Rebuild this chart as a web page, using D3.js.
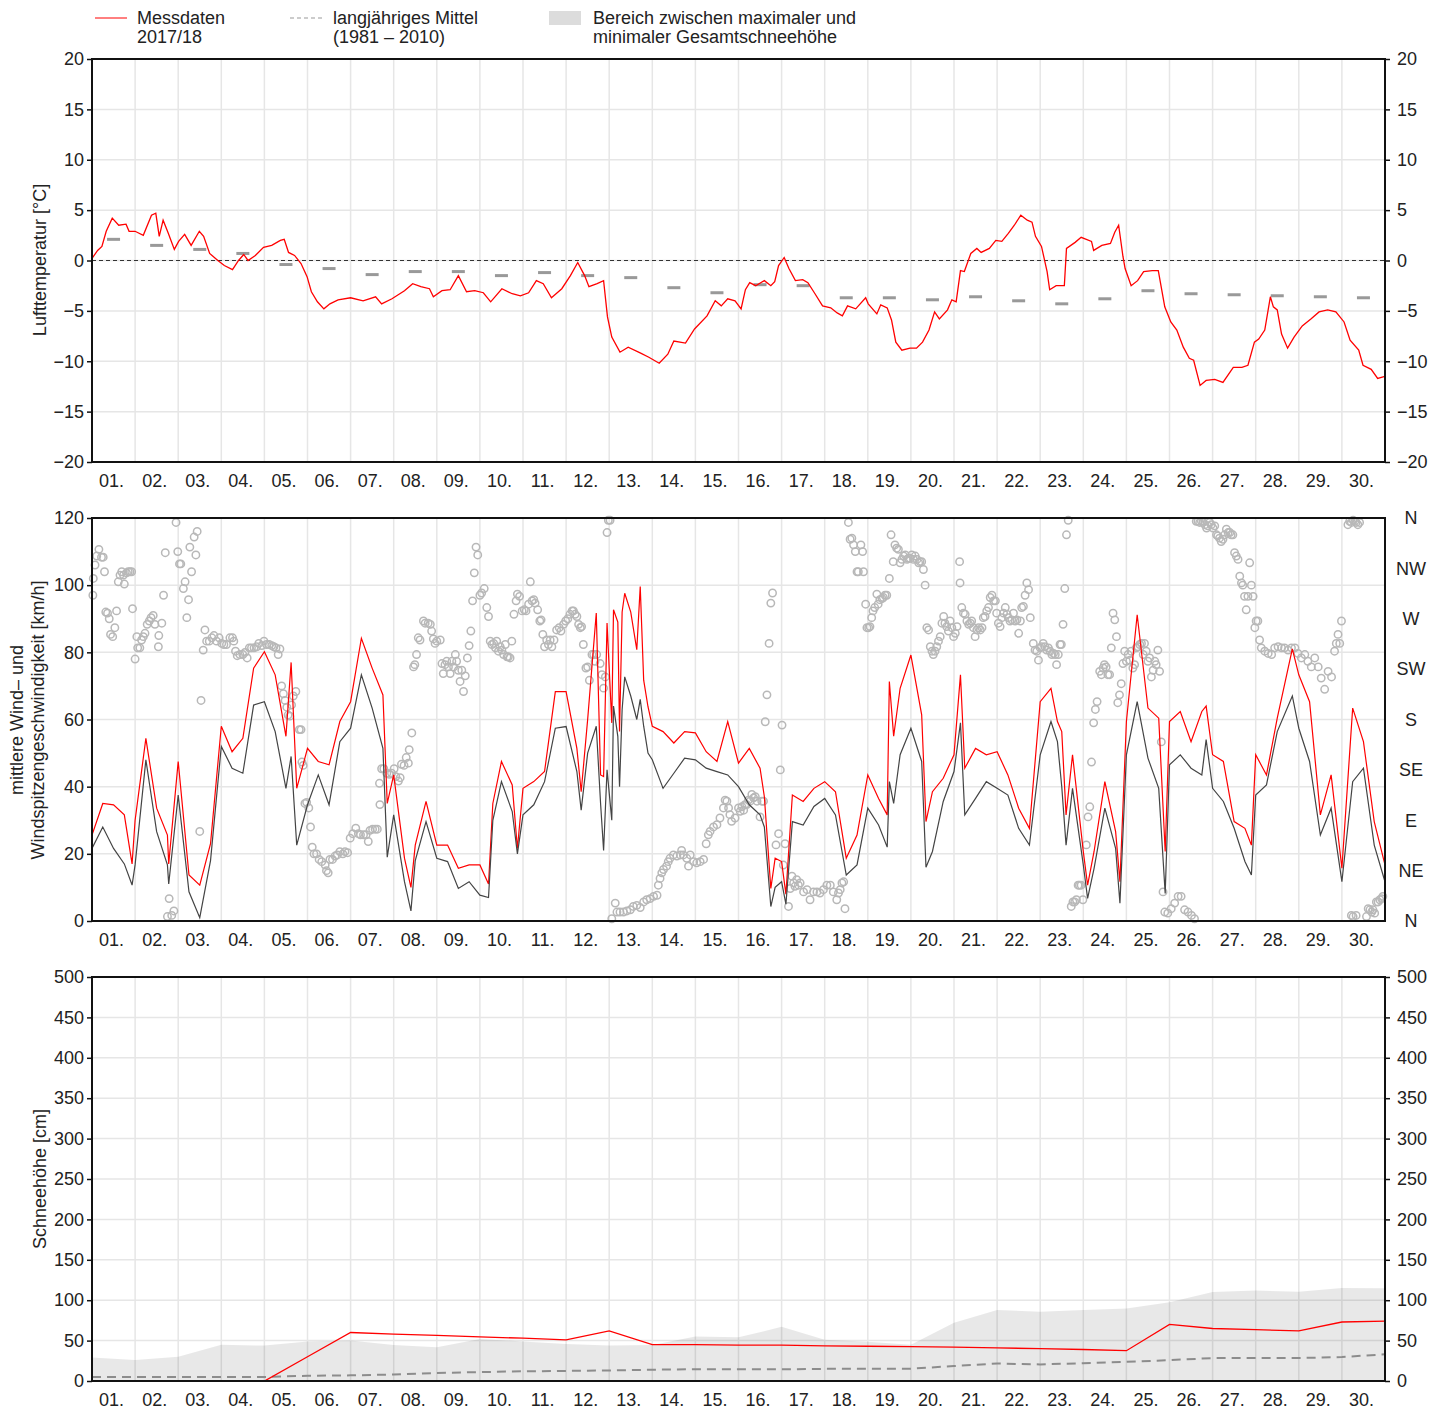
<!DOCTYPE html>
<html>
<head>
<meta charset="utf-8">
<script src="https://cdn.jsdelivr.net/npm/d3@7"></script>
<style>
  body { margin: 0; background: #fff; }
  svg text { font-family: "Liberation Sans", Arial, sans-serif; font-size: 18px; fill: #222; }
</style>
</head>
<body>
<div id="chart"></div>
<script>
'use strict'

// ---- data (x in days since start of month) ----

var dayLabels = d3.range(1, 31).map(function(d){ return (d < 10 ? '0' : '') + d + '.'; });

var tempDays = [
  0,0.13,0.23,0.33,0.47,0.62,0.79,0.86,1,1.19,
  1.38,1.48,1.56,1.65,1.77,1.91,2.01,2.15,2.3,2.49,
  2.59,2.73,2.92,3.07,3.26,3.4,3.52,3.62,3.79,3.98,
  4.17,4.37,4.46,4.56,4.7,4.85,4.99,5.09,5.23,5.38,
  5.52,5.71,6,6.29,6.58,6.72,6.96,7.25,7.44,7.63,
  7.83,7.92,8.12,8.31,8.5,8.69,8.88,9.08,9.25,9.51,
  9.75,9.94,10.13,10.31,10.47,10.66,10.9,11.1,11.27,11.43,
  11.53,11.72,11.87,11.96,12.06,12.25,12.44,12.73,12.92,13.16,
  13.36,13.5,13.77,13.98,14.27,14.46,14.6,14.75,14.92,15.06,
  15.16,15.26,15.4,15.6,15.75,15.84,15.93,16.06,16.17,16.32,
  16.49,16.61,16.76,16.95,17.14,17.29,17.41,17.53,17.72,17.95,
  18.01,18.21,18.3,18.45,18.55,18.65,18.79,18.98,19.13,19.27,
  19.42,19.55,19.66,19.85,19.95,20.05,20.15,20.24,20.39,20.53,
  20.63,20.82,20.97,21.11,21.26,21.4,21.55,21.7,21.81,21.89,
  22.03,22.16,22.22,22.37,22.56,22.61,22.81,22.95,23.19,23.24,
  23.43,23.63,23.73,23.82,23.92,23.97,24.11,24.26,24.4,24.6,
  24.74,24.89,25.03,25.17,25.32,25.46,25.56,25.71,25.85,26.05,
  26.24,26.48,26.68,26.82,26.97,27.07,27.21,27.34,27.41,27.5,
  27.6,27.74,27.89,28.08,28.28,28.47,28.67,28.86,29.05,29.19,
  29.39,29.49,29.68,29.83,30
];
var tempVals = [
  0.2,1.0,1.4,2.9,4.2,3.5,3.6,2.9,2.9,2.5,
  4.5,4.7,2.4,4.0,2.7,1.1,1.9,2.6,1.5,2.9,
  2.4,0.7,0,-0.5,-0.9,0,0.6,0,0.5,1.3,
  1.5,2.0,2.1,0.8,0.5,-0.3,-1.6,-3.1,-4.1,-4.8,
  -4.3,-3.9,-3.7,-4.0,-3.6,-4.3,-3.8,-3.0,-2.3,-2.6,
  -2.8,-3.6,-3.0,-2.9,-1.5,-3.1,-3.0,-3.2,-4.1,-2.8,
  -3.3,-3.5,-3.2,-2.0,-2.3,-3.7,-2.8,-1.5,-0.2,-1.5,
  -2.6,-2.3,-2.0,-5.6,-7.6,-9.1,-8.6,-9.2,-9.6,-10.2,
  -9.3,-8.0,-8.2,-6.8,-5.5,-4.0,-4.5,-3.8,-4.0,-4.8,
  -2.9,-2.2,-2.5,-2.0,-2.5,-2.1,-0.5,0.3,-0.8,-2.0,
  -1.9,-2.2,-3.2,-4.5,-4.7,-5.2,-5.5,-4.5,-4.8,-3.7,
  -4.3,-5.3,-4.4,-4.7,-5.9,-8.1,-8.9,-8.7,-8.7,-8.1,
  -6.9,-5.1,-5.8,-4.9,-3.9,-4.1,-1.0,-1.1,0.7,1.2,
  0.8,1.2,2.0,1.9,2.7,3.5,4.5,4.0,3.8,2.4,
  1.4,-1.1,-2.9,-2.5,-2.5,1.2,1.8,2.3,1.9,1.0,
  1.5,1.7,2.8,3.5,0.4,-0.8,-2.5,-2.0,-1.1,-1.0,
  -1.0,-4.6,-6.1,-6.9,-8.6,-9.7,-9.9,-12.4,-11.9,-11.8,
  -12.1,-10.6,-10.6,-10.4,-8.1,-7.8,-6.9,-3.6,-4.6,-4.9,
  -7.3,-8.7,-7.6,-6.5,-5.8,-5.1,-4.9,-5.1,-6.1,-7.9,
  -8.9,-10.4,-10.8,-11.7,-11.5
];

// long-term daily mean temperature (1981-2010), one per day
var tempMean = [2.1,1.5,1.1,0.7,-0.4,-0.8,-1.4,-1.1,-1.1,-1.5,
  -1.2,-1.5,-1.7,-2.7,-3.2,-2.4,-2.5,-3.7,-3.7,-3.9,
  -3.6,-4.0,-4.3,-3.8,-3.0,-3.3,-3.4,-3.5,-3.6,-3.7];

var windDays = [
  0,0.25,0.5,0.75,0.93,1,1.25,1.5,1.75,1.78,
  2,2.25,2.5,2.75,3,3.25,3.5,3.75,4,4.25,
  4.5,4.62,4.75,5,5.25,5.5,5.75,6,6.25,6.5,
  6.75,6.85,7,7.25,7.4,7.5,7.75,8,8.25,8.5,
  8.75,9,9.2,9.3,9.5,9.75,9.87,10,10.25,10.5,
  10.75,11,11.25,11.35,11.5,11.7,11.8,11.87,11.95,12.06,
  12.1,12.2,12.24,12.3,12.36,12.5,12.64,12.72,12.8,12.9,
  13,13.25,13.5,13.75,14,14.25,14.5,
  14.75,15,15.25,15.5,15.6,15.75,15.85,16,16.1,16.25,
  16.5,16.75,17,17.25,17.5,17.75,18,18.25,18.45,18.5,
  18.6,18.75,19,19.25,19.35,19.5,19.75,20,20.15,20.25,
  20.5,20.75,21,21.25,21.5,21.75,22,22.25,22.4,22.5,
  22.6,22.75,23,23.1,23.25,23.5,23.75,23.85,24,24.25,
  24.5,24.75,24.9,25,25.25,25.5,25.75,25.85,26,26.25,
  26.5,26.75,26.9,27,27.25,27.5,27.85,28,28.25,28.5,
  28.75,29,29.25,29.5,29.75,30
];
var windMean = [
  21.6,28,21.6,17,10.7,16.7,48,26.6,16.7,11,
  37.5,8.7,1,18,52,45.5,44,64.3,65.3,56.4,
  39.5,49,22.6,34.6,43.5,34.6,53.4,57.4,73.3,63.4,
  51.4,19,31.6,11.7,3,18,29.6,18.7,17.7,9.7,
  11.7,7.7,7,30,41.5,32.6,20,31.6,34.6,41.5,
  57.4,57.9,44.5,33,50,58,35,21,45,30,
  64,55,40,63,72.7,67,60,66,58,50,
  48,39.5,44,48.5,48,45.5,44.5,
  43.5,40,34.6,31.6,28,4.3,10,11.7,5,29.6,
  28.6,34.1,36.5,31.6,13.7,16.7,33.6,28.6,22,41.5,
  35,49.5,57.4,47.5,16,20.7,35.6,44.5,59,31.6,
  36.5,41.5,39.5,37.5,27.6,22.6,49.5,59.4,53.4,40,
  22.6,39.5,16.7,6.7,15.7,33.6,21.6,5.3,49.5,65.3,
  48.5,39.5,8.2,46.5,49.5,45.5,43.5,54,39.5,35.6,
  27.6,17.7,13.7,37.5,40.5,56.4,67,57.4,47.5,25.6,
  33.6,11.7,41.5,45.5,22.6,11.7
];
var windGust = [
  25.6,35,34.6,31.6,17,30,54.4,33.6,25.6,17,
  47.5,13.7,10.7,23,58,50.4,54.4,75.3,80.2,73.3,
  55,77,39.5,51.4,47.5,46.5,59.4,65.3,84.2,75.3,
  67.3,35,43.5,18.7,10,22.6,35.6,22.6,22.6,15.7,
  16.7,16.7,11,35,47.5,40.5,21.6,39.5,41.5,44.5,
  68.3,68.3,51.4,38.5,60,91.7,43.5,43,88.7,59,
  92.7,89,56.4,92,97.6,92,80.8,99.6,71.7,63.8,
  58,56.4,53,56.4,56,50.4,47.5,
  59.4,47,51.4,45.5,37,9.7,18.7,17.7,8,37.5,
  35.6,39.5,41.5,38.5,18.7,25.6,43.5,36.5,31.6,71.3,
  55,69.3,79.2,61.4,29.6,38.5,42.5,49.5,73.3,45.5,
  51.4,49.5,50.4,43.5,33.6,27.6,65.3,69.3,59.4,56.4,
  31.6,49.5,20.7,10.7,20.7,41.5,26.6,11.7,59.4,91.2,
  63.4,60.4,20.7,59.4,62.4,53.4,62.4,64,49.5,47.5,
  29.6,27.6,22.6,49.5,43.5,60.4,81,73.3,65.3,31.6,
  43.5,15.7,63.4,53.4,29.6,16.7
];

// wind direction in degrees (0 = N, 90 = E ...)
var dirDays = [
  0.02,0.03,0.07,0.11,0.16,0.22,0.26,0.29,0.32,0.36,
  0.40,0.43,0.48,0.53,0.57,0.61,0.65,0.69,0.73,0.75,
  0.80,0.84,0.88,0.92,0.94,1.00,1.04,1.06,1.11,1.15,
  1.19,1.23,1.28,1.33,1.37,1.42,1.46,1.54,1.55,1.62,
  1.66,1.70,1.75,1.79,1.85,1.90,1.95,1.99,2.03,2.06,
  2.12,2.16,2.20,2.24,2.27,2.31,2.37,2.41,2.44,2.50,
  2.53,2.58,2.62,2.66,2.72,2.78,2.83,2.89,2.95,3.01,
  3.06,3.12,3.20,3.26,3.29,3.33,3.37,3.43,3.50,3.55,
  3.60,3.65,3.70,3.76,3.82,3.87,3.94,3.99,4.05,4.11,
  4.17,4.22,4.27,4.32,4.36,4.40,4.44,4.48,4.52,4.55,
  4.59,4.63,4.67,4.73,4.81,4.85,4.87,4.90,4.94,4.98,
  5.03,5.07,5.11,5.15,5.21,5.27,5.33,5.41,5.44,5.48,
  5.52,5.58,5.64,5.69,5.75,5.82,5.87,5.93,5.99,6.05,
  6.12,6.18,6.23,6.30,6.36,6.41,6.45,6.51,6.57,6.62,
  6.67,6.68,6.72,6.77,6.84,6.90,6.95,7.01,7.05,7.11,
  7.15,7.18,7.24,7.29,7.34,7.36,7.42,7.46,7.49,7.53,
  7.57,7.61,7.69,7.73,7.80,7.85,7.88,7.92,7.96,8.00,
  8.08,8.12,8.15,8.19,8.23,8.27,8.31,8.35,8.39,8.43,
  8.46,8.50,8.54,8.58,8.62,8.66,8.71,8.75,8.79,8.83,
  8.87,8.91,8.95,9.00,9.04,9.10,9.16,9.20,9.24,9.28,
  9.32,9.36,9.39,9.43,9.47,9.51,9.55,9.59,9.63,9.66,
  9.70,9.74,9.79,9.84,9.87,9.92,9.98,10.03,10.07,10.13,
  10.17,10.21,10.25,10.28,10.34,10.39,10.42,10.46,10.50,10.55,
  10.59,10.63,10.67,10.72,10.78,10.84,10.88,10.94,10.99,11.04,
  11.09,11.14,11.17,11.21,11.25,11.29,11.33,11.36,11.40,11.46,
  11.50,11.54,11.60,11.64,11.67,11.71,11.79,11.83,11.87,11.91,
  11.95,11.98,12.02,12.06,12.14,12.18,12.25,12.33,12.41,12.49,
  12.56,12.64,12.72,12.80,12.87,12.95,13.03,13.11,13.14,13.18,
  13.22,13.26,13.33,13.37,13.41,13.49,13.57,13.65,13.68,13.72,
  13.80,13.84,13.88,13.96,14.03,14.11,14.19,14.25,14.30,14.34,
  14.42,14.50,14.57,14.65,14.69,14.73,14.77,14.80,14.84,14.92,
  15.00,15.04,15.08,15.12,15.15,15.19,15.23,15.27,15.31,15.35,
  15.39,15.43,15.50,15.54,15.58,15.62,15.66,15.71,15.75,15.79,
  15.87,15.93,15.97,16.01,16.04,16.08,16.16,16.20,16.24,16.28,
  16.31,16.35,16.39,16.43,16.51,16.59,16.66,16.74,16.82,16.89,
  16.97,17.05,17.13,17.20,17.28,17.32,17.36,17.40,17.44,17.47,
  17.55,17.59,17.63,17.67,17.71,17.75,17.78,17.84,17.88,17.90,
  17.95,17.98,18.02,18.05,18.09,18.12,18.16,18.21,18.24,18.28,
  18.33,18.36,18.40,18.44,18.50,18.54,18.59,18.63,18.67,18.71,
  18.75,18.79,18.83,18.87,18.91,18.94,18.98,19.02,19.06,19.10,
  19.14,19.18,19.21,19.25,19.29,19.33,19.37,19.41,19.45,19.49,
  19.52,19.56,19.60,19.64,19.68,19.72,19.76,19.79,19.83,19.87,
  19.91,19.95,19.99,20.03,20.07,20.13,20.14,20.18,20.22,20.26,
  20.30,20.34,20.38,20.41,20.45,20.49,20.53,20.57,20.61,20.65,
  20.68,20.72,20.76,20.80,20.84,20.88,20.92,20.96,20.99,21.03,
  21.07,21.11,21.15,21.19,21.23,21.26,21.30,21.34,21.38,21.42,
  21.46,21.50,21.54,21.57,21.61,21.65,21.69,21.73,21.77,21.84,
  21.88,21.92,21.96,22.00,22.03,22.07,22.11,22.15,22.19,22.23,
  22.27,22.31,22.35,22.38,22.42,22.46,22.49,22.53,22.57,22.61,
  22.65,22.72,22.76,22.80,22.84,22.88,22.91,22.95,22.99,23.07,
  23.11,23.15,23.19,23.24,23.28,23.32,23.38,23.42,23.46,23.49,
  23.53,23.57,23.61,23.65,23.69,23.73,23.77,23.80,23.84,23.88,
  23.92,23.96,24.00,24.04,24.08,24.11,24.15,24.19,24.23,24.27,
  24.31,24.35,24.39,24.42,24.46,24.50,24.54,24.58,24.62,24.66,
  24.69,24.73,24.77,24.81,24.85,24.89,24.96,25.04,25.12,25.20,
  25.27,25.35,25.43,25.51,25.58,25.62,25.66,25.70,25.74,25.78,
  25.82,25.86,25.89,25.93,25.97,26.01,26.05,26.09,26.12,26.16,
  26.20,26.24,26.28,26.32,26.36,26.40,26.43,26.47,26.51,26.55,
  26.59,26.63,26.67,26.70,26.74,26.78,26.82,26.86,26.90,26.94,
  26.98,27.01,27.05,27.09,27.13,27.21,27.29,27.37,27.44,27.52,
  27.60,27.67,27.75,27.83,27.91,27.98,28.06,28.14,28.21,28.29,
  28.37,28.45,28.52,28.60,28.68,28.76,28.83,28.87,28.91,28.95,
  28.99,29.14,29.18,29.22,29.26,29.30,29.33,29.37,29.41,29.22,
  29.26,29.33,29.57,29.61,29.65,29.69,29.72,29.76,29.80,29.84,
  29.88,29.92,29.95
];
var dirDeg = [
  291,306,318,326,332,325,325,312,276,275,
  270,256,254,262,277,303,309,312,309,301,
  311,312,312,312,279,234,254,244,244,251,
  254,257,265,268,271,273,265,245,255,266,
  291,329,4,20,5,9,356,330,319,319,
  297,303,271,287,334,312,343,327,348,80,
  197,242,260,250,250,253,255,250,253,248,
  247,247,253,253,250,241,237,238,238,240,
  235,244,244,244,245,248,246,250,247,247,
  246,245,244,238,243,210,203,197,191,184,
  183,193,201,205,171,171,142,139,105,106,
  101,84,66,60,60,55,53,50,45,43,
  55,55,58,59,62,60,62,61,74,78,
  83,78,77,77,77,71,81,82,82,82,
  123,104,136,136,132,131,132,136,129,125,
  128,140,139,146,141,153,168,227,229,238,
  253,251,268,266,266,265,259,252,248,250,
  251,230,221,229,232,227,221,232,227,238,
  232,224,214,224,205,219,235,246,259,286,
  311,334,327,291,293,297,280,272,250,247,
  248,244,250,241,245,242,238,247,236,236,
  235,250,274,286,292,290,277,278,277,283,
  303,286,287,284,278,268,269,256,245,251,
  247,251,245,251,260,262,259,265,268,270,
  274,277,277,274,272,265,262,263,247,226,
  227,215,238,238,232,238,230,220,208,218,
  347,358,358,2,16,8,8,8,9,10,
  13,14,12,17,19,20,22,23,32,38,
  43,46,49,53,56,59,58,59,63,59,
  56,49,59,53,52,53,55,69,77,80,
  84,86,92,101,108,107,101,95,89,92,
  101,98,102,99,104,104,108,107,113,110,
  111,107,93,107,107,178,202,248,284,293,
  68,78,135,175,50,69,13,29,40,34,
  31,37,32,34,26,28,19,26,26,25,
  28,32,32,26,19,25,28,34,35,11,
  356,341,342,336,330,312,312,336,330,312,
  283,262,262,263,271,277,280,292,283,287,
  288,289,291,291,306,345,321,336,333,332,
  320,323,326,327,323,324,324,327,323,326,
  323,320,321,321,314,300,262,260,245,241,
  238,241,245,250,254,266,272,266,263,259,
  268,262,254,257,263,321,302,280,275,274,
  268,265,266,268,262,254,260,262,260,262,
  271,272,277,280,289,291,286,286,275,266,
  263,271,275,280,274,271,268,269,275,268,
  269,257,268,280,281,291,302,296,271,248,
  242,241,233,244,245,248,245,242,244,241,
  238,239,238,229,238,247,247,265,297,345,
  358,13,17,17,19,32,32,32,19,68,
  93,102,142,177,189,196,223,220,226,229,
  227,220,220,244,275,269,254,195,202,212,
  230,241,232,238,233,241,226,229,244,245,
  247,248,238,248,241,232,235,218,224,232,
  229,242,223,160,26,8,7,11,16,22,
  22,10,8,5,2,357,357,356,357,356,
  354,351,353,356,354,351,353,345,344,342,
  339,341,345,350,347,347,345,345,329,326,
  323,308,302,300,290,278,290,320,300,290,
  262,268,268,251,244,241,239,238,244,245,
  244,244,242,244,244,239,235,238,232,227,
  235,227,217,207,223,218,241,248,256,248,
  268,354,357,356,358,357,356,354,356,5,
  4,5,4,11,10,8,10,7,17,17,
  19,20,22
];

// snow depth at each day boundary (0 ... 30)
var snowDays = d3.range(0, 31);
var snowVals = [0,0,0,0,0,30,60,58,56.5,54.5,53,51,62,45,45,44.5,
  44.5,43.5,43,42.5,42,41,40,39,37.5,70,65,63.5,62,73,74];
var snowMean = [5,5,5,5,5,6.5,7,8,10,11,12,12.5,13,14,14.5,14.5,
  14.4,15,15.3,15.3,18.5,21.6,20.5,22,23.7,25.8,28.4,28.4,28.4,29.7,33];
var snowMax = [29,26,30,45,43.8,48.8,50,44.6,41.7,52,49,45.8,43.8,44.6,55,54,
  67,51,48.7,45,72,88,85.6,88,89.8,97.5,110,112,110.6,115,114.8];

var tempTicks = d3.range(-20, 21, 5);
var windTicks = d3.range(0, 121, 20);
var dirTicks = ['N','NE','E','SE','S','SW','W','NW','N'];
var snowTicks = d3.range(0, 501, 50);

// ---- layout ----

var outerWidth = 1434;
var outerHeight = 1410;
var plotLeft = 92;
var plotRight = 1385;
var gridColor = '#e6e6e6';
var red = '#ff0000';

var svg = d3.select('#chart').append('svg')
  .attr('width', outerWidth)
  .attr('height', outerHeight);

var x = d3.scaleLinear().domain([0, 30]).range([plotLeft, plotRight]);
var yTemp = d3.scaleLinear().domain([-20, 20]).range([462, 59]);
var yWind = d3.scaleLinear().domain([0, 120]).range([921, 518]);
var yDir = d3.scaleLinear().domain([0, 360]).range([921, 518]);
var ySnow = d3.scaleLinear().domain([0, 500]).range([1381, 977]);

function fmt(d){ return d < 0 ? '\u2212' + Math.abs(d) : d; }

// gridlines, clip, day labels for one panel
function panelBase(name, y, ticks){
  var top = y.range()[1], bottom = y.range()[0];
  var g = svg.append('g').attr('class', name);

  svg.append('clipPath').attr('id', 'clip-' + name)
    .append('rect')
      .attr('x', plotLeft).attr('y', top)
      .attr('width', plotRight - plotLeft).attr('height', bottom - top);

  g.selectAll('line.h').data(ticks).enter().append('line')
    .attr('class', 'h')
    .attr('x1', plotLeft).attr('x2', plotRight)
    .attr('y1', function(d){ return y(d); })
    .attr('y2', function(d){ return y(d); })
    .attr('stroke', gridColor).attr('stroke-width', 1.5);

  g.selectAll('line.v').data(d3.range(1, 30)).enter().append('line')
    .attr('class', 'v')
    .attr('x1', function(d){ return x(d); })
    .attr('x2', function(d){ return x(d); })
    .attr('y1', top).attr('y2', bottom)
    .attr('stroke', gridColor).attr('stroke-width', 1.5);

  g.selectAll('text.day').data(dayLabels).enter().append('text')
    .attr('class', 'day')
    .attr('x', function(d, i){ return x(i + 0.5) - 2; })
    .attr('y', bottom + 25)
    .attr('text-anchor', 'middle')
    .text(function(d){ return d; });

  return g;
}

function frame(y){
  var top = y.range()[1], bottom = y.range()[0];
  svg.append('rect')
    .attr('x', plotLeft).attr('y', top)
    .attr('width', plotRight - plotLeft).attr('height', bottom - top)
    .attr('fill', 'none').attr('stroke', '#111').attr('stroke-width', 2);
}

function sideAxis(y, ticks, right){
  var axis = (right ? d3.axisRight(y) : d3.axisLeft(y))
    .tickValues(ticks).tickSize(5).tickPadding(right ? 7 : 3).tickFormat(fmt);
  var g = svg.append('g')
    .attr('transform', 'translate(' + (right ? plotRight : plotLeft) + ',0)')
    .call(axis);
  g.select('.domain').remove();
  g.selectAll('line').attr('stroke', '#111').attr('stroke-width', 1.5);
  g.selectAll('text').attr('font-size', null).attr('font-family', null).attr('fill', '#222');
  return g;
}

function axisTitle(lines, cx, cy){
  var t = svg.append('text')
    .attr('transform', 'translate(' + cx + ',' + cy + ') rotate(-90)')
    .attr('text-anchor', 'middle');
  lines.forEach(function(s, i){
    t.append('tspan').attr('x', 0).attr('dy', i === 0 ? 0 : 21).text(s);
  });
}

function pairs(xs, ys){ return xs.map(function(d, i){ return [d, ys[i]]; }); }

// ---- legend ----

var legend = svg.append('g');
legend.append('line').attr('x1', 95).attr('x2', 127).attr('y1', 18).attr('y2', 18)
  .attr('stroke', red).attr('stroke-width', 1);
legend.append('text').attr('x', 137).attr('y', 24).text('Messdaten');
legend.append('text').attr('x', 137).attr('y', 43).text('2017/18');
legend.append('line').attr('x1', 290).attr('x2', 322).attr('y1', 18).attr('y2', 18)
  .attr('stroke', '#999').attr('stroke-width', 1).attr('stroke-dasharray', '4,3');
legend.append('text').attr('x', 333).attr('y', 24).text('langjähriges Mittel');
legend.append('text').attr('x', 333).attr('y', 43).text('(1981 \u2013 2010)');
legend.append('rect').attr('x', 549).attr('y', 11).attr('width', 32).attr('height', 14)
  .attr('fill', '#dcdcdc');
legend.append('text').attr('x', 593).attr('y', 24).text('Bereich zwischen maximaler und');
legend.append('text').attr('x', 593).attr('y', 43).text('minimaler Gesamtschneehöhe');

// ---- temperature panel ----

var gTemp = panelBase('temp', yTemp, tempTicks);

gTemp.append('line')
  .attr('x1', plotLeft).attr('x2', plotRight)
  .attr('y1', yTemp(0)).attr('y2', yTemp(0))
  .attr('stroke', '#333').attr('stroke-width', 1.2).attr('stroke-dasharray', '4,3');

gTemp.selectAll('line.mean').data(tempMean).enter().append('line')
  .attr('class', 'mean')
  .attr('x1', function(d, i){ return x(i + 0.5) - 6.5; })
  .attr('x2', function(d, i){ return x(i + 0.5) + 6.5; })
  .attr('y1', function(d){ return yTemp(d); })
  .attr('y2', function(d){ return yTemp(d); })
  .attr('stroke', '#999').attr('stroke-width', 3);

gTemp.append('path')
  .datum(pairs(tempDays, tempVals))
  .attr('clip-path', 'url(#clip-temp)')
  .attr('fill', 'none').attr('stroke', red).attr('stroke-width', 1.3)
  .attr('d', d3.line().x(function(d){ return x(d[0]); }).y(function(d){ return yTemp(d[1]); }));

frame(yTemp);
sideAxis(yTemp, tempTicks, false);
sideAxis(yTemp, tempTicks, true);
axisTitle(['Lufttemperatur [°C]'], 46, 260);

// ---- wind panel ----

var gWind = panelBase('wind', yWind, windTicks);

gWind.selectAll('circle').data(pairs(dirDays, dirDeg)).enter().append('circle')
  .attr('cx', function(d){ return x(d[0]); })
  .attr('cy', function(d){ return yDir(d[1]); })
  .attr('r', 3.7)
  .attr('fill', 'none').attr('stroke', '#b8b8b8').attr('stroke-width', 1.5);

var windLine = function(vals){
  return d3.line()
    .x(function(d){ return x(d[0]); })
    .y(function(d){ return yWind(d[1]); })(pairs(windDays, vals));
};

gWind.append('path')
  .attr('clip-path', 'url(#clip-wind)')
  .attr('fill', 'none').attr('stroke', red).attr('stroke-width', 1.2)
  .attr('d', windLine(windGust));

gWind.append('path')
  .attr('clip-path', 'url(#clip-wind)')
  .attr('fill', 'none').attr('stroke', '#444').attr('stroke-width', 1.2)
  .attr('d', windLine(windMean));

frame(yWind);
sideAxis(yWind, windTicks, false);

svg.append('g').selectAll('text').data(dirTicks).enter().append('text')
  .attr('x', 1411)
  .attr('y', function(d, i){ return yDir(i * 45); })
  .attr('dy', '0.35em')
  .attr('text-anchor', 'middle')
  .text(function(d){ return d; });

axisTitle(['mittlere Wind\u2013 und', 'Windspitzengeschwindigkeit [km/h]'], 23, 720);

// ---- snow panel ----

var gSnow = panelBase('snow', ySnow, snowTicks);

gSnow.append('path')
  .datum(pairs(snowDays, snowMax))
  .attr('fill', '#000').attr('fill-opacity', 0.09)
  .attr('d', d3.area()
    .x(function(d){ return x(d[0]); })
    .y0(ySnow(0))
    .y1(function(d){ return ySnow(d[1]); }));

gSnow.append('path')
  .datum(pairs(snowDays, snowMean))
  .attr('fill', 'none').attr('stroke', '#8c8c8c').attr('stroke-width', 2)
  .attr('stroke-dasharray', '9,6')
  .attr('d', d3.line().x(function(d){ return x(d[0]); }).y(function(d){ return ySnow(d[1]); }));

gSnow.append('path')
  .datum(pairs(snowDays, snowVals))
  .attr('fill', 'none').attr('stroke', red).attr('stroke-width', 1.3)
  .attr('d', d3.line().x(function(d){ return x(d[0]); }).y(function(d){ return ySnow(d[1]); }));

frame(ySnow);
sideAxis(ySnow, snowTicks, false);
sideAxis(ySnow, snowTicks, true);
axisTitle(['Schneehöhe [cm]'], 46, 1179);
</script>
</body>
</html>
